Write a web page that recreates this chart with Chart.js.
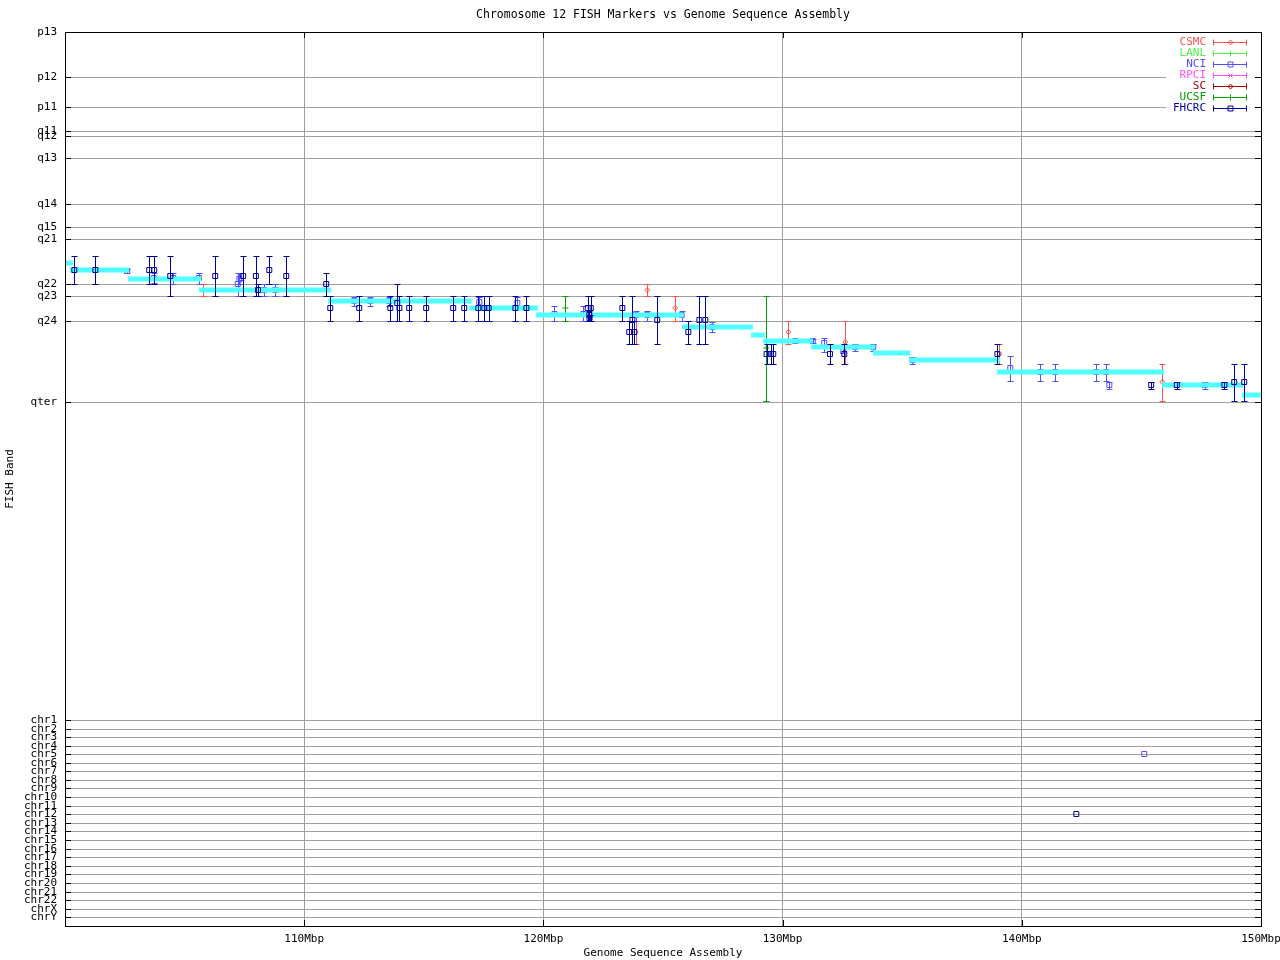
<!DOCTYPE html>
<html><head><meta charset="utf-8">
<script src="https://cdn.jsdelivr.net/npm/chart.js@4.4.0/dist/chart.umd.min.js"></script>
<style>html,body{margin:0;padding:0;background:#fff}canvas{display:block}</style>
</head><body>
<canvas id="c" width="1280" height="960"></canvas>
<script>
// ---- axis definitions ----
const bandLabels = ['p13','p12','p11','q11','q12','q13','q14','q15','q21','q22','q23','q24','qter',
  'chr1','chr2','chr3','chr4','chr5','chr6','chr7','chr8','chr9','chr10','chr11','chr12','chr13',
  'chr14','chr15','chr16','chr17','chr18','chr19','chr20','chr21','chr22','chrX','chrY'];
const bandPositions = [0,45,75,99,104,126,172,195,207,252,264,289,370,
  688,697,705,714,722,731,739,748,756,765,774,782,791,799,808,817,825,834,842,851,860,868,877,885];
const bandMax = 894;
const xTicks = [110,120,130,140,150];
const xTickLabels = ['110Mbp','120Mbp','130Mbp','140Mbp','150Mbp'];

// ---- genome sequence assembly (cyan segments) ----
const segStart = [100.0,100.2,102.63,105.6,111.0,116.9,119.69,125.8,128.68,129.18,131.19,133.78,135.28,138.96,145.86,149.2];
const segEnd   = [100.33,102.68,105.69,111.12,117.0,119.77,125.84,128.76,129.26,131.27,133.86,135.33,139.09,145.94,149.25,150.0];
const segBand  = [231,238,247,258,269,276,283,295,303,309,315,321,328,340,353,363];

// ---- FISH markers ----
const fhcrcPos  = [100.39,101.27,103.52,103.73,104.40,106.28,107.45,107.98,108.07,108.54,109.25,110.92,111.09,112.30,113.60,113.89,113.98,114.39,115.10,116.23,116.69,117.28,117.53,117.71,118.83,119.29,121.85,121.98,121.92,121.93,123.30,123.59,123.72,123.80,124.76,126.06,126.52,126.77,129.33,129.50,129.61,131.98,132.58,138.98,145.41,146.48,148.47,148.88,149.30,142.28];
const fhcrcBand = [238,238,238,238,244,244,244,244,258,238,244,252,276,276,276,271,276,276,276,276,276,276,276,276,276,276,276,276,283,286,276,300,288,300,288,300,288,288,322,322,322,322,322,322,353,353,353,350,350,782];
const fhcrcLo   = [224,224,224,224,224,224,224,224,252,224,224,241,264,264,264,252,264,264,264,264,264,264,264,264,264,264,264,264,279,283,264,289,264,289,264,289,264,264,312,312,312,312,312,312,350,350,350,332,332,782];
const fhcrcHi   = [252,252,252,252,264,264,264,264,264,252,264,264,289,289,289,289,289,289,289,289,289,289,289,289,289,289,289,289,289,289,289,312,312,312,312,312,312,312,332,332,332,332,332,332,357,357,357,369,369,782];

const nciPos  = [102.60,103.71,104.53,105.59,107.22,107.29,107.35,108.32,108.79,112.09,112.76,113.56,117.32,118.91,120.46,121.67,123.86,124.34,125.78,127.06,130.53,131.26,131.74,132.54,133.04,133.79,135.42,139.52,140.77,141.40,143.11,143.53,143.66,147.65,145.12];
const nciBand = [239,246,246,246,252,247,244,258,258,269,269,269,270,271,282,282,283,283,283,295,309,309,311,319,315,315,328,336,340,340,340,340,353,353,722];
const nciLo   = [237,241,241,241,241,241,241,252,252,265,265,265,265,265,274,274,279,279,279,290,307,307,306,316,312,312,325,324,332,332,332,332,350,350,722];
const nciHi   = [241,251,252,252,264,252,248,264,264,274,274,274,274,274,289,289,289,289,289,300,311,311,320,321,319,319,332,349,349,349,349,349,357,357,722];

const csmcPos  = [105.78,123.86,124.34,125.51,130.24,132.62,139.06,145.87];
const csmcBand = [258,300,258,276,300,310,322,350];
const csmcLo   = [252,289,252,264,289,289,312,332];
const csmcHi   = [264,312,264,289,312,332,332,369];

const ucsfPos  = [120.92,129.32];
const ucsfBand = [276,316];
const ucsfLo   = [264,264];
const ucsfHi   = [289,369];

const lanlPos = [], lanlBand = [], lanlLo = [], lanlHi = [];
const rpciPos = [], rpciBand = [], rpciLo = [], rpciHi = [];
const scPos = [], scBand = [], scLo = [], scHi = [];

// ---- build datasets ----
const FONT = '"DejaVu Sans Mono", monospace';
const pts = (xs, ys) => xs.map((x, i) => ({x: x, y: ys[i]}));
const segData = [];
segStart.forEach((s, i) => {
  segData.push({x: s, y: segBand[i]});
  segData.push({x: segEnd[i], y: segBand[i]});
  segData.push({x: segEnd[i], y: null});
});
function src(label, color, style, radius, xs, ys, lo, hi, order) {
  return {label, type: 'scatter', data: pts(xs, ys), errLo: lo, errHi: hi, isSource: true,
    borderColor: color, backgroundColor: 'rgba(0,0,0,0)', pointStyle: style, pointRadius: radius,
    pointBorderWidth: 1, borderWidth: 1, showLine: false, order};
}
const sources = [
  src('CSMC', '#ff5050', 'rectRot', 2.5, csmcPos, csmcBand, csmcLo, csmcHi, 7),
  src('LANL', '#50f050', 'cross', 3, lanlPos, lanlBand, lanlLo, lanlHi, 6),
  src('NCI', '#5050ff', 'rect', 3.5, nciPos, nciBand, nciLo, nciHi, 5),
  src('RPCI', '#ff50ff', 'crossRot', 3, rpciPos, rpciBand, rpciLo, rpciHi, 4),
  src('SC', '#a00000', 'rectRot', 2.5, scPos, scBand, scLo, scHi, 3),
  src('UCSF', '#00a000', 'cross', 3, ucsfPos, ucsfBand, ucsfLo, ucsfHi, 2),
  src('FHCRC', '#0000a0', 'rect', 3.5, fhcrcPos, fhcrcBand, fhcrcLo, fhcrcHi, 0)
];
const assembly = {label: 'assembly', type: 'scatter', data: segData, showLine: true, spanGaps: false,
  borderColor: '#50ffff', borderWidth: 5, pointRadius: 0, fill: false, tension: 0, order: 1};

// ---- plugins ----
const errorBars = {
  id: 'errorBars',
  afterDatasetDraw(chart, args) {
    const ds = chart.data.datasets[args.index];
    if (!ds.isSource) return;
    const ctx = chart.ctx, ys = chart.scales.y;
    ctx.save();
    ctx.strokeStyle = ds.borderColor; ctx.lineWidth = 1;
    args.meta.data.forEach((pt, i) => {
      const lo = ds.errLo[i], hi = ds.errHi[i];
      if (lo === hi) return;
      const x = Math.round(pt.x) + 0.5;
      const y1 = Math.round(ys.getPixelForValue(lo)) + 0.5;
      const y2 = Math.round(ys.getPixelForValue(hi)) + 0.5;
      ctx.beginPath();
      ctx.moveTo(x, y1); ctx.lineTo(x, y2);
      ctx.moveTo(x - 3, y1); ctx.lineTo(x + 3, y1);
      ctx.moveTo(x - 3, y2); ctx.lineTo(x + 3, y2);
      ctx.stroke();
    });
    ctx.restore();
  }
};
const decor = {
  id: 'decor',
  afterDatasetsDraw(chart) {
    const ctx = chart.ctx;
    // key
    ctx.save();
    ctx.fillStyle = '#fff';
    ctx.fillRect(1166, 36, 90, 78);
    ctx.font = '11px ' + FONT; ctx.textAlign = 'right'; ctx.textBaseline = 'middle';
    sources.forEach((ds, i) => {
      const y = 42.5 + i * 11;
      ctx.fillStyle = ds.borderColor;
      ctx.fillText(ds.label, 1206, y);
      ctx.strokeStyle = ds.borderColor; ctx.lineWidth = 1;
      ctx.beginPath();
      ctx.moveTo(1213, y); ctx.lineTo(1247, y);
      ctx.moveTo(1213.5, y - 3); ctx.lineTo(1213.5, y + 3);
      ctx.moveTo(1246.5, y - 3); ctx.lineTo(1246.5, y + 3);
      ctx.stroke();
      ctx.fillStyle = 'rgba(0,0,0,0)';
      Chart.helpers.drawPoint(ctx, {pointStyle: ds.pointStyle, radius: ds.pointRadius, rotation: 0, borderWidth: 1}, 1230.5, y);
    });
    ctx.restore();
  },
  afterDraw(chart) {
    const ctx = chart.ctx, a = chart.chartArea, xs = chart.scales.x, ys = chart.scales.y;
    ctx.save();
    ctx.strokeStyle = '#000'; ctx.lineWidth = 1;
    ctx.beginPath();
    ys.ticks.forEach(t => {
      const y = Math.round(ys.getPixelForValue(t.value)) + 0.5;
      ctx.moveTo(a.left, y); ctx.lineTo(a.left + 6, y);
      ctx.moveTo(a.right, y); ctx.lineTo(a.right - 6, y);
    });
    xs.ticks.forEach(t => {
      const x = Math.round(xs.getPixelForValue(t.value)) + 0.5;
      ctx.moveTo(x, a.bottom); ctx.lineTo(x, a.bottom - 6);
      ctx.moveTo(x, a.top); ctx.lineTo(x, a.top + 6);
    });
    ctx.stroke();
    ctx.strokeRect(Math.round(a.left) + 0.5, Math.round(a.top) + 0.5, Math.round(a.right - a.left), Math.round(a.bottom - a.top));
    // titles
    ctx.fillStyle = '#000';
    ctx.font = '11.5px ' + FONT; ctx.textAlign = 'center'; ctx.textBaseline = 'middle';
    ctx.fillText('Chromosome 12 FISH Markers vs Genome Sequence Assembly', 663, 15);
    ctx.font = '11px ' + FONT;
    ctx.fillText('Genome Sequence Assembly', 663, 953);
    ctx.translate(10, 479); ctx.rotate(-Math.PI / 2);
    ctx.fillText('FISH Band', 0, 0);
    ctx.restore();
  }
};

new Chart(document.getElementById('c'), {
  type: 'scatter',
  data: {datasets: [...sources, assembly]},
  options: {
    responsive: false, animation: false, devicePixelRatio: 1,
    layout: {padding: {top: 32, right: 19, bottom: 0, left: 0}},
    plugins: {legend: {display: false}, tooltip: {enabled: false}, title: {display: false}},
    events: [],
    scales: {
      x: {type: 'linear', min: 100, max: 150,
        afterBuildTicks: s => { s.ticks = xTicks.map(v => ({value: v})); },
        afterFit: s => { s.height = 34; s.paddingLeft = 0; s.paddingRight = 0; },
        ticks: {callback: (v, i) => xTickLabels[i], font: {family: FONT, size: 11}, color: '#000',
          padding: 7, maxRotation: 0, autoSkip: false},
        grid: {color: '#a0a0a0', drawTicks: false, tickLength: 0},
        border: {display: false}},
      y: {type: 'linear', min: 0, max: bandMax, reverse: true,
        afterBuildTicks: s => { s.ticks = bandPositions.map(v => ({value: v})); },
        afterFit: s => { s.width = 65; s.paddingTop = 0; s.paddingBottom = 0; },
        ticks: {callback: (v, i) => bandLabels[i], font: {family: FONT, size: 11}, color: '#000',
          padding: 8, autoSkip: false},
        grid: {color: '#a0a0a0', drawTicks: false, tickLength: 0},
        border: {display: false}}
    }
  },
  plugins: [errorBars, decor]
});
</script>
</body></html>
